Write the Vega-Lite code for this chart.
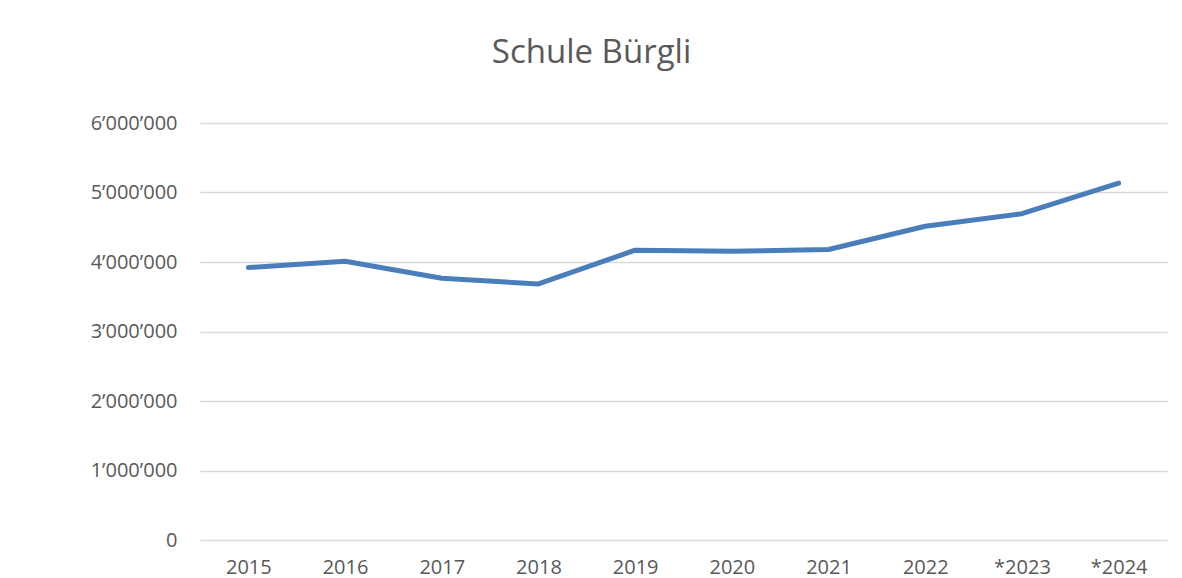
{
  "$schema": "https://vega.github.io/schema/vega-lite/v6.json",
  "autosize": "none",
  "width": 967,
  "height": 417,
  "padding": {"left": 200, "top": 123, "right": 15, "bottom": 38},
  "background": "white",
  "title": {
    "text": "Schule Bürgli",
    "font": "Open Sans",
    "fontSize": 33,
    "fontWeight": "normal",
    "color": "#595959",
    "anchor": "middle",
    "frame": "group",
    "dx": -92,
    "offset": 43
  },
  "data": {
    "values": [
      {"year": "2015", "value": 3920000},
      {"year": "2016", "value": 4010000},
      {"year": "2017", "value": 3765000},
      {"year": "2018", "value": 3685000},
      {"year": "2019", "value": 4170000},
      {"year": "2020", "value": 4155000},
      {"year": "2021", "value": 4180000},
      {"year": "2022", "value": 4515000},
      {"year": "*2023", "value": 4695000},
      {"year": "*2024", "value": 5135000}
    ]
  },
  "mark": {"type": "line", "color": "#4a7ebb", "strokeWidth": 5, "strokeCap": "round", "strokeJoin": "round"},
  "encoding": {
    "x": {
      "field": "year",
      "type": "ordinal",
      "sort": null,
      "scale": {"type": "point", "padding": 0.5},
      "axis": {
        "title": null,
        "labelAngle": 0,
        "labelFont": "Open Sans",
        "labelFontSize": 20,
        "labelColor": "#595959",
        "labelBaseline": "top",
        "labelPadding": 17,
        "ticks": false,
        "domain": false,
        "grid": false
      }
    },
    "y": {
      "field": "value",
      "type": "quantitative",
      "scale": {"domain": [0, 6000000], "nice": false},
      "axis": {
        "title": null,
        "values": [0, 1000000, 2000000, 3000000, 4000000, 5000000, 6000000],
        "labelExpr": "replace(format(datum.value, ','), /,/g, '’')",
        "labelFont": "Open Sans",
        "labelFontSize": 20,
        "labelColor": "#595959",
        "labelPadding": 23,
        "ticks": false,
        "domain": false,
        "grid": true,
        "gridColor": "#d9d9d9",
        "gridWidth": 1.5
      }
    }
  },
  "config": {"view": {"stroke": null}}
}
